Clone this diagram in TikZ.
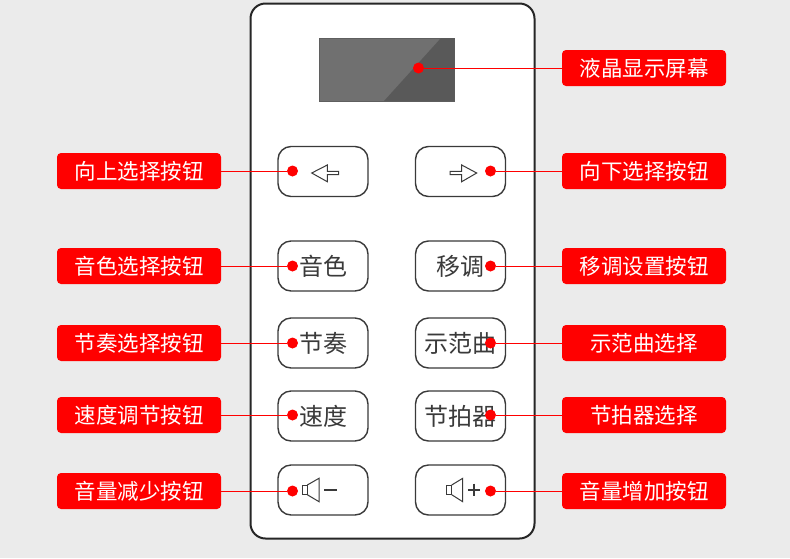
\documentclass[tikz,border=0pt]{standalone}
\usepackage{fontspec}
\setmainfont{Noto Sans CJK SC}
\usetikzlibrary{positioning}
\definecolor{pagegray}{HTML}{EBEBEB}
\definecolor{lcdlight}{HTML}{707070}
\definecolor{lcddark}{HTML}{595959}
\definecolor{inkgray}{HTML}{3A3A3A}
\definecolor{tagred}{HTML}{FF0000}
\tikzset{
  tagbox/.style={fill=tagred,text=white,rounded corners=4pt,minimum width=164pt,minimum height=36pt,inner sep=0pt,font=\fontsize{21.5}{21.5}\selectfont},
  keybox/.style={draw=inkgray,line width=1.4pt,fill=white,rounded corners=13pt,minimum width=90pt,minimum height=50pt,inner sep=0pt,text=inkgray,font=\fontsize{24}{24}\selectfont},
  reddot/.style={circle,fill=tagred,minimum size=11pt,inner sep=0pt},
  leadline/.style={draw=tagred,line width=1pt},
  glyphline/.style={draw=inkgray,line width=1pt,line join=miter}
}
\begin{document}
\begin{tikzpicture}[x=1pt,y=-1pt]
\useasboundingbox[fill=pagegray] (0,0) rectangle (790,558);
\node[draw=black!85,line width=2pt,fill=white,rounded corners=15pt,minimum width=284pt,minimum height=535pt,inner sep=0pt] (panel) at (392.5,271) {};
% display
\node[fill=lcdlight,draw=lcdlight!85!black,line width=0.8pt,minimum width=135pt,minimum height=63pt,inner sep=0pt] (lcd) at (387,69.5) {};
\fill[lcddark] (384,101) -- (441,38) -- (454.5,38) -- (454.5,101) -- cycle;
% keys
\node[keybox] (kup) at (323,171.5) {};
\node[keybox] (kdown) at (460.5,171.5) {};
\node[keybox] (ktone) at (323,266) {音色};
\node[keybox] (kshift) at (460.5,266) {移调};
\node[keybox] (krhythm) at (323,343) {节奏};
\node[keybox] (kdemo) at (460.5,343) {示范曲};
\node[keybox] (kspeed) at (323,416) {速度};
\node[keybox] (kmetro) at (460.5,416) {节拍器};
\node[keybox] (kvoldn) at (323,490) {};
\node[keybox] (kvolup) at (460.5,490) {};
% arrows on the keys
\draw[glyphline] (311.7,173) -- (327.3,165) -- (327.3,171.3) -- (338.7,171.3) -- (338.7,174.7) -- (327.3,174.7) -- (327.3,181.7) -- cycle;
\draw[glyphline] (476.7,173) -- (461.7,165) -- (461.7,171.3) -- (450,171.3) -- (450,174.7) -- (461.7,174.7) -- (461.7,181.7) -- cycle;
% speakers
\draw[glyphline] (302.7,485) rectangle (307.3,494.7);
\draw[glyphline] (307.3,485) -- (319,478.3) -- (319,501.7) -- (307.3,494.7);
\draw[inkgray,line width=2pt] (324.3,489.5) -- (336.7,489.5);
\draw[glyphline] (446.3,485) rectangle (451.7,494.7);
\draw[glyphline] (451.7,485) -- (462.7,478.3) -- (462.7,501.7) -- (451.7,494.7);
\draw[inkgray,line width=2pt] (468.3,489.5) -- (480.3,489.5) (474.3,483.5) -- (474.3,495.5);
% labels and leaders
\node[reddot] (dlcd) at (418.5,68) {};
\node[tagbox] (tlcd) at (644,68) {液晶显示屏幕};
\draw[leadline] (dlcd.east)--(tlcd.west);
\node[reddot] (dup) at (292.5,171) {};
\node[tagbox] (tup) at (139,171) {向上选择按钮};
\draw[leadline] (tup.east)--(dup.west);
\node[reddot] (ddown) at (490.5,171) {};
\node[tagbox] (tdown) at (644,171) {向下选择按钮};
\draw[leadline] (ddown.east)--(tdown.west);
\node[reddot] (dtone) at (292.5,266) {};
\node[tagbox] (ttone) at (139,266) {音色选择按钮};
\draw[leadline] (ttone.east)--(dtone.west);
\node[reddot] (dshift) at (490.5,266) {};
\node[tagbox] (tshift) at (644,266) {移调设置按钮};
\draw[leadline] (dshift.east)--(tshift.west);
\node[reddot] (drhythm) at (292.5,343) {};
\node[tagbox] (trhythm) at (139,343) {节奏选择按钮};
\draw[leadline] (trhythm.east)--(drhythm.west);
\node[reddot] (ddemo) at (490.5,343) {};
\node[tagbox] (tdemo) at (644,343) {示范曲选择};
\draw[leadline] (ddemo.east)--(tdemo.west);
\node[reddot] (dspeed) at (292.5,415) {};
\node[tagbox] (tspeed) at (139,415) {速度调节按钮};
\draw[leadline] (tspeed.east)--(dspeed.west);
\node[reddot] (dmetro) at (490.5,415) {};
\node[tagbox] (tmetro) at (644,415) {节拍器选择};
\draw[leadline] (dmetro.east)--(tmetro.west);
\node[reddot] (dvoldn) at (292.5,491) {};
\node[tagbox] (tvoldn) at (139,491) {音量减少按钮};
\draw[leadline] (tvoldn.east)--(dvoldn.west);
\node[reddot] (dvolup) at (490.5,491) {};
\node[tagbox] (tvolup) at (644,491) {音量增加按钮};
\draw[leadline] (dvolup.east)--(tvolup.west);
\end{tikzpicture}
\end{document}
